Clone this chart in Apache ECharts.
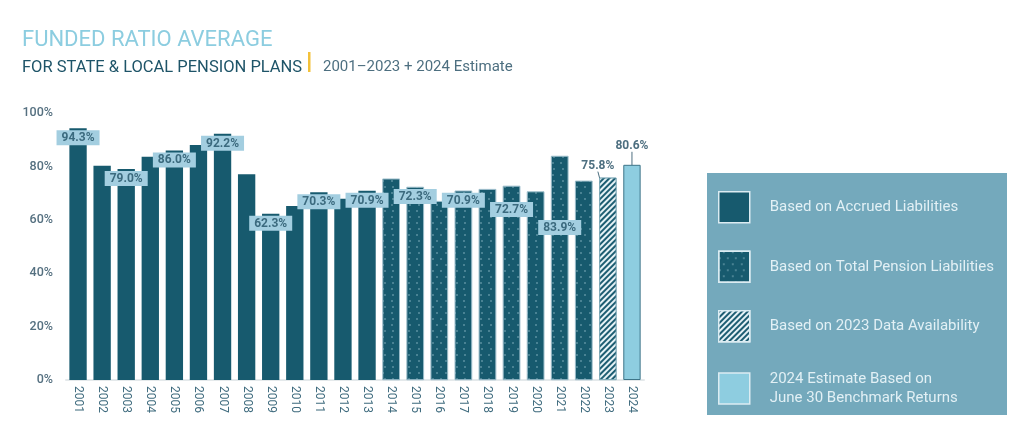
<!DOCTYPE html>
<html>
<head>
<meta charset="utf-8">
<script src="https://cdn.jsdelivr.net/npm/echarts@6/dist/echarts.min.js"></script>
<style>
html,body{margin:0;padding:0;background:#fff;}
#c{width:1024px;height:437px;}
</style>
</head>
<body>
<div id="c"></div>
<script>
// ---- data ----
const years = ['2001','2002','2003','2004','2005','2006','2007','2008','2009','2010','2011','2012','2013','2014','2015','2016','2017','2018','2019','2020','2021','2022','2023','2024'];
const fundedRatio = [94.3, 80.2, 79.0, 83.6, 86.0, 88.0, 92.2, 77.1, 62.3, 65.2, 70.3, 67.9, 70.9, 75.4, 72.3, 67.0, 70.9, 71.5, 72.7, 70.6, 83.9, 74.6, 75.8, 80.6];
const accruedYears = ['2001','2002','2003','2004','2005','2006','2007','2008','2009','2010','2011','2012','2013'];
const totalPensionYears = ['2014','2015','2016','2017','2018','2019','2020','2021','2022'];
const dataAvailYears = ['2023'];
const estimateYears = ['2024'];
const labelledYears = ['2001','2003','2005','2007','2009','2011','2013','2015','2017','2019','2021','2023','2024'];
const seriesNames = ['Based on Accrued Liabilities','Based on Total Pension Liabilities','Based on 2023 Data Availability','2024 Estimate Based on\nJune 30 Benchmark Returns'];
const yTicks = [0, 20, 40, 60, 80, 100];

// ---- styling helpers ----
const FONT = 'Roboto';
const DARK = '#175a6e';
const labelBox = {
  show: true, position: 'insideTop', distance: 2,
  backgroundColor: '#a3cee0', color: '#3b6a7e', fontWeight: 'bold',
  fontSize: 12, fontFamily: FONT, padding: [2, 5, 1, 5],
  formatter: p => p.value.toFixed(1) + '%'
};
const extraDrop = { '2019': 14, '2021': 62 };

function buildData(yearSet, withBoxLabel) {
  return years.map((y, i) => {
    if (yearSet.indexOf(y) < 0) return null;
    const item = { value: fundedRatio[i] };
    if (labelledYears.indexOf(y) >= 0 && withBoxLabel) {
      item.label = Object.assign({}, labelBox, { offset: [0, extraDrop[y] || 0] });
    }
    return item;
  });
}

const topLabel = {
  show: true, position: 'top', distance: 4,
  color: '#4d6f80', fontWeight: 'bold', fontSize: 12, fontFamily: FONT,
  formatter: p => p.value.toFixed(1) + '%'
};

const chart = echarts.init(document.getElementById('c'), null, { renderer: 'canvas' });
chart.setOption({
  animation: false,
  backgroundColor: '#ffffff',
  title: [
    { text: 'FUNDED RATIO AVERAGE', left: 17, top: 24,
      textStyle: { fontFamily: FONT, fontSize: 22, fontWeight: 'normal', color: '#8ccde0' } },
    { text: 'FOR STATE & LOCAL PENSION PLANS', left: 17, top: 54,
      textStyle: { fontFamily: FONT, fontSize: 16.5, fontWeight: 'normal', color: '#1e5468' } },
    { text: '2001\u20132023 + 2024 Estimate', left: 318, top: 55,
      textStyle: { fontFamily: FONT, fontSize: 15, fontWeight: 'normal', color: '#4d6f80' } }
  ],
  graphic: [
    { type: 'rect', shape: { x: 308, y: 52, width: 2.5, height: 20 }, style: { fill: '#f3c13a' } },
    { type: 'rect', z: -1, shape: { x: 707, y: 173, width: 300, height: 242 }, style: { fill: '#74a9bc' } }
  ],
  grid: { left: 66, right: 380, top: 113, bottom: 57, containLabel: false },
  xAxis: {
    type: 'category', data: years,
    axisLine: { lineStyle: { color: '#e4e9eb', width: 2 } },
    axisTick: { show: false },
    axisLabel: { rotate: -90, color: '#3f6b7e', fontSize: 12, fontFamily: FONT, margin: 6 }
  },
  yAxis: {
    type: 'value', min: yTicks[0], max: yTicks[yTicks.length - 1], interval: 20,
    splitLine: { show: false }, axisLine: { show: false }, axisTick: { show: false },
    axisLabel: { formatter: '{value}%', color: '#557080', fontSize: 12.5, fontFamily: FONT, margin: 13, fontWeight: 500 }
  },
  legend: {
    orient: 'vertical', left: 713, top: 186,
    itemWidth: 31, itemHeight: 31, itemGap: 27,
    icon: 'rect',
    data: seriesNames,
    selectedMode: false,
    itemStyle: { borderColor: '#dcecf2', borderWidth: 1.5 },
    textStyle: { color: '#e2f0f5', fontSize: 15, fontFamily: FONT, lineHeight: 19, padding: [0, 0, 0, 15] }
  },
  series: [
    {
      name: seriesNames[0], type: 'bar', stack: 'all', barWidth: '72%',
      itemStyle: { color: DARK },
      data: buildData(accruedYears, true)
    },
    {
      name: seriesNames[1], type: 'bar', stack: 'all', barWidth: '72%',
      itemStyle: {
        color: DARK, borderColor: '#9dc0cc', borderWidth: 0.6,
        decal: { symbol: 'circle', symbolSize: 0.8, color: 'rgba(190,222,232,0.7)',
          dashArrayX: [[1.2, 5.3], [0, 3.2, 1.2, 2.1]], dashArrayY: [1.2, 3.5] }
      },
      data: buildData(totalPensionYears, true)
    },
    {
      name: seriesNames[2], type: 'bar', stack: 'all', barWidth: '72%',
      itemStyle: {
        color: '#e6f2f6', borderColor: '#7fa9b8', borderWidth: 0.8,
        decal: { symbol: 'rect', symbolSize: 1, color: '#1d5d72',
          dashArrayX: [1, 0], dashArrayY: [1.6, 1.6], rotation: -Math.PI / 4 }
      },
      label: topLabel,
      labelLayout: { dx: -10, dy: -2 },
      labelLine: { show: true, lineStyle: { color: '#4d6f80', width: 1 } },
      data: buildData(dataAvailYears, false)
    },
    {
      name: seriesNames[3], type: 'bar', stack: 'all', barWidth: '72%',
      itemStyle: { color: '#8ecde0', borderColor: '#3d7488', borderWidth: 1 },
      label: topLabel,
      labelLayout: { dy: -9 },
      labelLine: { show: true, lineStyle: { color: '#4d6f80', width: 1 } },
      data: buildData(estimateYears, false)
    }
  ]
});
</script>
</body>
</html>
